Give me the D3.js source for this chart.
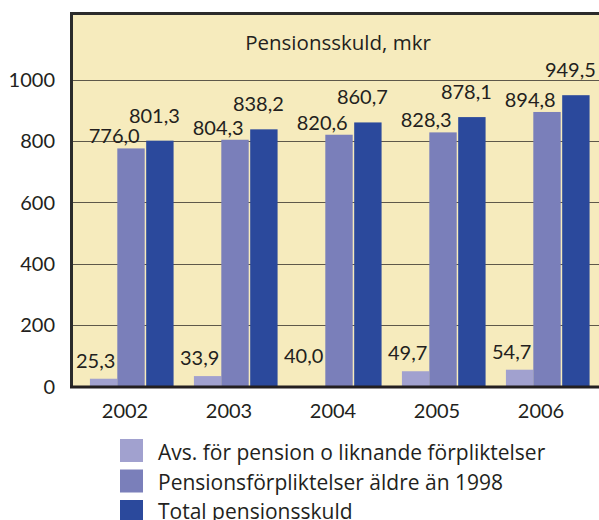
<!DOCTYPE html>
<html><head><meta charset="utf-8">
<script src="https://cdn.jsdelivr.net/npm/d3@7"></script>
<style>html,body{margin:0;padding:0;background:#fff;}svg{display:block;font-family:Lato,"Open Sans",sans-serif;}</style>
</head><body>
<svg id="c" width="599" height="520"></svg>
<script>
const years = ["2002","2003","2004","2005","2006"];
const avsPension = [25.3, 33.9, 40.0, 49.7, 54.7];
const aldre1998 = [776.0, 804.3, 820.6, 828.3, 894.8];
const totalSkuld = [801.3, 838.2, 860.7, 878.1, 949.5];
const seriesNames = ["Avs. för pension o liknande förpliktelser","Pensionsförpliktelser äldre än 1998","Total pensionsskuld"];
const yTicks = [0, 200, 400, 600, 800, 1000];
const title = "Pensionsskuld, mkr";
const hiddenBars = [[0, "2004"]]; // bar not drawn in the original (label only)

const colors = ["#a1a1cf", "#7a7fba", "#2b499c"];
const fmt = v => v.toFixed(1).replace(".", ",");
const series = [avsPension, aldre1998, totalSkuld];

const svg = d3.select("#c");
const pL = 71.5, pR = 599, pT = 13.5, pB = 386.5;

const y = d3.scaleLinear().domain([0, 1200]).range([pB, pB - 1200 * 0.3068]);
const x = d3.scaleBand().domain(years).range([79, 599]).paddingInner(0.21).paddingOuter(0.105);
const xs = d3.scaleBand().domain([0,1,2]).range([0, x.bandwidth()]).paddingInner(0.0);

// background
svg.append("rect").attr("x", pL).attr("y", pT).attr("width", pR - pL).attr("height", pB - pT).attr("fill", "#f6ebbd");

// gridlines
svg.append("g").selectAll("line").data(yTicks.filter(t => t > 0)).join("line")
  .attr("x1", pL).attr("x2", pR).attr("y1", d => Math.round(y(d)) + 0.5).attr("y2", d => Math.round(y(d)) + 0.5)
  .attr("stroke", "#5e584a").attr("stroke-width", 1.2);

// title
svg.append("text").attr("x", 338).attr("y", 50).attr("text-anchor", "middle")
  .attr("font-family", "'Open Sans', sans-serif")
  .attr("font-size", 20.5).attr("fill", "#231f20").text(title);

// bars
const hidden = new Set(hiddenBars.map(d => d[0] + "|" + d[1]));
const g = svg.append("g");
series.forEach((vals, si) => {
  g.selectAll(null).data(years.map((yr, i) => ({yr, v: vals[i]})).filter(d => !hidden.has(si + "|" + d.yr))).join("rect")
    .attr("x", d => x(d.yr) + xs(si) + (si === 2 ? 1.5 : 0))
    .attr("width", xs.bandwidth())
    .attr("y", d => y(d.v)).attr("height", d => y(0) - y(d.v))
    .attr("fill", colors[si]);
});

// value labels
const lab = svg.append("g").attr("font-size", 20).attr("fill", "#231f20");
lab.selectAll(null).data(years.map((yr, i) => ({yr, v: avsPension[i]}))).join("text")
  .attr("x", d => x(d.yr) + xs(0) + xs.bandwidth() - 2).attr("y", d => y(d.v) - 11)
  .attr("text-anchor", "end").text(d => fmt(d.v));
lab.selectAll(null).data(years.map((yr, i) => ({yr, v: aldre1998[i]}))).join("text")
  .attr("x", d => x(d.yr) + xs(1) + xs.bandwidth() - 5).attr("y", d => y(d.v) - 5)
  .attr("text-anchor", "end").text(d => fmt(d.v));
lab.selectAll(null).data(years.map((yr, i) => ({yr, v: totalSkuld[i]}))).join("text")
  .attr("x", d => x(d.yr) + xs(2) + xs.bandwidth() / 2 - 4).attr("y", d => y(d.v) - 18)
  .attr("text-anchor", "middle").text(d => fmt(d.v));

// frame
svg.append("path").attr("d", `M${pL},${pB}V${pT}H${pR}`).attr("fill", "none").attr("stroke", "#2b2b2b").attr("stroke-width", 3);
svg.append("line").attr("x1", pL - 1.5).attr("x2", pR).attr("y1", pB + 0.5).attr("y2", pB + 0.5).attr("stroke", "#231f20").attr("stroke-width", 3);

// y axis labels
svg.append("g").attr("font-size", 20).attr("fill", "#231f20").selectAll("text").data(yTicks).join("text")
  .attr("x", 55).attr("y", d => y(d)).attr("dy", "0.36em").attr("text-anchor", "end").text(d => d);

// x axis labels
svg.append("g").attr("font-size", 20).attr("fill", "#231f20").selectAll("text").data(years).join("text")
  .attr("x", d => x(d) + x.bandwidth() / 2 - 6).attr("y", 418).attr("text-anchor", "middle").text(d => d);

// legend
const lg = svg.append("g").selectAll("g").data(seriesNames).join("g")
  .attr("transform", (d, i) => `translate(120, ${439 + i * 30.5})`);
lg.append("rect").attr("width", 23).attr("height", 23).attr("fill", (d, i) => colors[i]);
lg.append("text").attr("x", 38).attr("y", (d, i) => 21 - i).attr("font-family", "'Open Sans', sans-serif")
  .attr("font-size", 21).attr("fill", "#231f20").text(d => d);
</script>
</body></html>
